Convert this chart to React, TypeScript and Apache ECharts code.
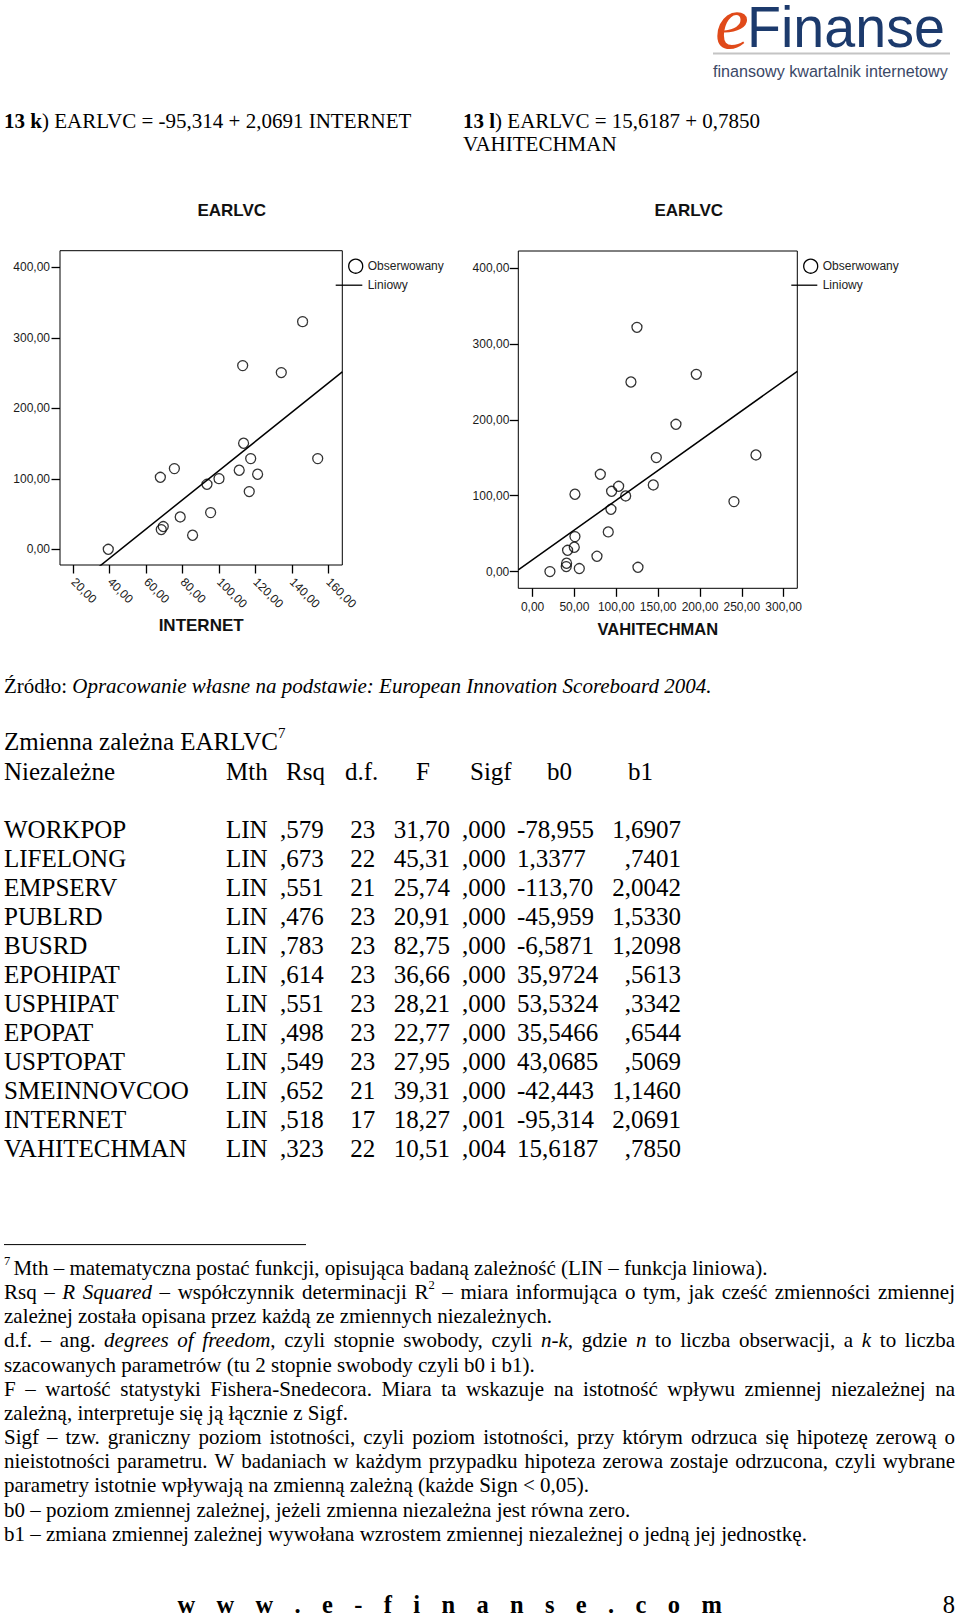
import React, { useEffect, useRef } from 'react';
import * as echarts from 'echarts';

const SERIF = '"Liberation Serif", "Times New Roman", serif';
const SANS = '"Liberation Sans", Arial, sans-serif';

// ---------- scatter 13 k) : INTERNET vs EARLVC ----------
const internetX = [39.2, 67.8, 75.5, 68.3, 69.4, 78.7, 85.5, 93.4, 95.4, 100.0, 111.1, 113.0, 113.5, 116.6, 117.4, 121.2, 134.2, 145.9, 154.2];
const internetY = [0, 102.1, 114.4, 27.9, 32.2, 45.9, 19.9, 92.2, 52.0, 100.2, 112.1, 260.5, 150.4, 81.8, 128.6, 106.4, 250.6, 322.9, 128.6];

// ---------- scatter 13 l) : VAHITECHMAN vs EARLVC ----------
const vahiX = [20.7, 40.6, 40.2, 55.8, 41.8, 49.8, 50.6, 50.6, 76.9, 80.9, 90.4, 93.6, 94.4, 102.8, 111.2, 117.5, 124.7, 125.9, 144.2, 147.8, 171.3, 195.6, 240.6, 266.9];
const vahiY = [0, 11, 6.6, 4, 28.1, 32.1, 46.1, 101.9, 20.2, 128.2, 52.3, 82.1, 105.8, 112.4, 99.7, 249.8, 321.8, 5.7, 114.2, 150.2, 194.1, 259.9, 92.2, 153.7];

// ---------- axis ticks ----------
const internetTicks = [20, 40, 60, 80, 100, 120, 140, 160];
const vahiTicks = [0, 50, 100, 150, 200, 250, 300];
const earlvcTicks = [0, 100, 200, 300, 400];

// ---------- table ----------
const variables = ['WORKPOP', 'LIFELONG', 'EMPSERV', 'PUBLRD', 'BUSRD', 'EPOHIPAT', 'USPHIPAT', 'EPOPAT', 'USPTOPAT', 'SMEINNOVCOO', 'INTERNET', 'VAHITECHMAN'];
const mth = ['LIN', 'LIN', 'LIN', 'LIN', 'LIN', 'LIN', 'LIN', 'LIN', 'LIN', 'LIN', 'LIN', 'LIN'];
const rsq = [',579', ',673', ',551', ',476', ',783', ',614', ',551', ',498', ',549', ',652', ',518', ',323'];
const dfs = ['23', '22', '21', '23', '23', '23', '23', '23', '23', '21', '17', '22'];
const fStat = ['31,70', '45,31', '25,74', '20,91', '82,75', '36,66', '28,21', '22,77', '27,95', '39,31', '18,27', '10,51'];
const sigf = [',000', ',000', ',000', ',000', ',000', ',000', ',000', ',000', ',000', ',000', ',001', ',004'];
const b0 = ['-78,955', '1,3377', '-113,70', '-45,959', '-6,5871', '35,9724', '53,5324', '35,5466', '43,0685', '-42,443', '-95,314', '15,6187'];
const b1 = ['1,6907', ',7401', '2,0042', '1,5330', '1,2098', ',5613', ',3342', ',6544', ',5069', '1,1460', '2,0691', ',7850'];
const tableHeader = ['Niezależne', 'Mth', 'Rsq', 'd.f.', 'F', 'Sigf', 'b0', 'b1'];

// ---------- texts (markup: _italic_, *bold*, ^superscript^) ----------
const heading1 = '*13 k*) EARLVC = -95,314 + 2,0691 INTERNET';
const heading2 = ['*13 l*) EARLVC = 15,6187 + 0,7850', 'VAHITECHMAN'];
const sourceLine = 'Źródło: _Opracowanie własne na podstawie: European Innovation Scoreboard 2004._';
const tableTitle = 'Zmienna zależna EARLVC^7^';
const footnotes: [string, boolean][] = [
  ['^7^ Mth – matematyczna postać funkcji, opisująca badaną zależność (LIN – funkcja liniowa).', false],
  ['Rsq – _R Squared_ – współczynnik determinacji R^2^ – miara informująca o tym, jak cześć zmienności zmiennej', true],
  ['zależnej została opisana przez każdą ze zmiennych niezależnych.', false],
  ['d.f. – ang. _degrees of freedom_, czyli stopnie swobody, czyli _n-k_, gdzie _n_ to liczba obserwacji, a _k_ to liczba', true],
  ['szacowanych parametrów (tu 2 stopnie swobody czyli b0 i b1).', false],
  ['F – wartość statystyki Fishera-Snedecora. Miara ta wskazuje na istotność wpływu zmiennej niezależnej na', true],
  ['zależną, interpretuje się ją łącznie z Sigf.', false],
  ['Sigf – tzw. graniczny poziom istotności, czyli poziom istotności, przy którym odrzuca się hipotezę zerową o', true],
  ['nieistotności parametru. W badaniach w każdym przypadku hipoteza zerowa zostaje odrzucona, czyli wybrane', true],
  ['parametry istotnie wpływają na zmienną zależną (każde Sign < 0,05).', false],
  ['b0 – poziom zmiennej zależnej, jeżeli zmienna niezależna jest równa zero.', false],
  ['b1 – zmiana zmiennej zależnej wywołana wzrostem zmiennej niezależnej o jedną jej jednostkę.', false],
];
const footerSite = 'www.e-finanse.com';
const pageNumber = '8';
const logoE = 'e';
const logoRest = 'Finanse';
const logoTagline = 'finansowy kwartalnik internetowy';

type Piece = { t: string; it: boolean; b: boolean; sup: boolean };

let mctx: CanvasRenderingContext2D | null = null;
function measure(text: string, font: string): number {
  if (!mctx) mctx = document.createElement('canvas').getContext('2d');
  mctx!.font = font;
  return mctx!.measureText(text).width;
}
function pieceFont(p: Piece, size: number) {
  const s = p.sup ? size * 0.6 : size;
  return `${p.it ? 'italic ' : ''}${p.b ? 'bold ' : ''}${s}px "Liberation Serif"`;
}
function parseWords(markup: string): Piece[][] {
  const words: Piece[][] = [];
  let cur: Piece[] = [];
  let buf = '';
  let it = false, b = false, sup = false;
  const flush = () => { if (buf) { cur.push({ t: buf, it, b, sup }); buf = ''; } };
  for (const ch of markup) {
    if (ch === '_') { flush(); it = !it; }
    else if (ch === '*') { flush(); b = !b; }
    else if (ch === '^') { flush(); sup = !sup; }
    else if (ch === ' ') { flush(); if (cur.length) words.push(cur); cur = []; }
    else buf += ch;
  }
  flush();
  if (cur.length) words.push(cur);
  return words;
}
function pieceEl(x: number, y: number, p: Piece, size: number) {
  const s = p.sup ? size * 0.6 : size;
  return {
    type: 'text', x, y: p.sup ? y - size * 0.32 : y, silent: true,
    style: {
      text: p.t, fontFamily: SERIF, fontSize: s,
      fontStyle: p.it ? 'italic' : 'normal', fontWeight: p.b ? 'bold' : 'normal',
      fill: '#000', textAlign: 'left', textVerticalAlign: 'middle',
    },
  };
}
function layoutLine(out: any[], markup: string, x0: number, y: number, size: number, justifyTo?: number) {
  const words = parseWords(markup);
  if (!justifyTo) {
    const runs: Piece[] = [];
    words.forEach((ws, wi) => {
      ws.forEach((p, pi) => {
        const lead = wi > 0 && pi === 0;
        const last = runs[runs.length - 1];
        if (last && last.it === p.it && last.b === p.b && last.sup === p.sup) {
          last.t += (lead ? ' ' : '') + p.t;
        } else {
          if (lead && last) last.t += ' ';
          runs.push({ ...p });
        }
      });
    });
    let x = x0;
    runs.forEach((r) => { out.push(pieceEl(x, y, r, size)); x += measure(r.t, pieceFont(r, size)); });
    return;
  }
  const widths = words.map((ws) => ws.reduce((a, p) => a + measure(p.t, pieceFont(p, size)), 0));
  const total = widths.reduce((a, v) => a + v, 0);
  const gap = (justifyTo - x0 - total) / (words.length - 1);
  let x = x0;
  words.forEach((ws, i) => {
    let px = x;
    ws.forEach((p) => { out.push(pieceEl(px, y, p, size)); px += measure(p.t, pieceFont(p, size)); });
    x += widths[i] + gap;
  });
}
function plainText(x: number, y: number, text: string, size: number, extra: any = {}) {
  return {
    type: 'text', x, y, silent: true,
    style: {
      text, fontFamily: extra.family ?? SERIF, fontSize: size,
      fontWeight: extra.bold ? 'bold' : 'normal', fontStyle: extra.italic ? 'italic' : 'normal',
      fill: extra.color ?? '#000', textAlign: extra.align ?? 'left', textVerticalAlign: 'middle',
    },
    ...(extra.scaleX ? { scaleX: extra.scaleX } : {}),
  };
}

const num = (s: string) => parseFloat(s.replace(',', '.'));
const fmt = (v: number) => v.toFixed(2).replace('.', ',');

function buildOption() {
  const g: any[] = [];

  // ---- logo ----
  g.push({ type: 'text', x: 715, y: 22, silent: true, style: { text: logoE, fontFamily: SERIF, fontStyle: 'italic', fontSize: 76, fill: '#e04a1a', textAlign: 'left', textVerticalAlign: 'middle' } });
  const fw = measure(logoRest, `57px "Liberation Sans"`);
  g.push(plainText(747, 27.5, logoRest, 57, { family: SANS, color: '#1c3a6c', scaleX: 198 / fw }));
  g.push({ type: 'line', silent: true, shape: { x1: 713, y1: 53.5, x2: 950, y2: 53.5 }, style: { stroke: '#c4c4c4', lineWidth: 2 } });
  const tw = measure(logoTagline, `17px "Liberation Sans"`);
  g.push(plainText(713, 71, logoTagline, 17, { family: SANS, color: '#3b4866', scaleX: 235 / tw }));

  // ---- headings ----
  layoutLine(g, heading1, 4, 120.6, 21);
  layoutLine(g, heading2[0], 463, 120.6, 21);
  layoutLine(g, heading2[1], 463, 144.4, 21);

  // ---- chart titles and legends ----
  const chartTitles = [231.7, 688.7];
  chartTitles.forEach((cx) => g.push(plainText(cx, 210, 'EARLVC', 17, { family: SANS, bold: true, align: 'center', color: '#111' })));
  const legends = [
    { cx: 355.7, lx1: 335.7, lx2: 362.3, tx: 367.7 },
    { cx: 810.7, lx1: 791.3, lx2: 817.3, tx: 822.7 },
  ];
  legends.forEach((L) => {
    g.push({ type: 'circle', silent: true, shape: { cx: L.cx, cy: 266.2, r: 7 }, style: { fill: 'none', stroke: '#000', lineWidth: 1.3 } });
    g.push(plainText(L.tx, 266.2, 'Obserwowany', 12, { family: SANS, color: '#222' }));
    g.push({ type: 'line', silent: true, shape: { x1: L.lx1, y1: 285.2, x2: L.lx2, y2: 285.2 }, style: { stroke: '#000', lineWidth: 1.3 } });
    g.push(plainText(L.tx, 285.2, 'Liniowy', 12, { family: SANS, color: '#222' }));
  });

  // ---- source + table ----
  layoutLine(g, sourceLine, 4, 685.7, 21);
  layoutLine(g, tableTitle, 4, 741.4, 25);
  const headX = [4, 226, 286, 345, 416, 470, 547, 628];
  tableHeader.forEach((h, i) => g.push(plainText(headX[i], 771.3, h, 25)));
  variables.forEach((v, i) => {
    const y = 829 + i * 29;
    g.push(plainText(4, y, v, 25));
    g.push(plainText(226, y, mth[i], 25));
    g.push(plainText(280, y, rsq[i], 25));
    g.push(plainText(350.2, y, dfs[i], 25));
    g.push(plainText(393.8, y, fStat[i], 25));
    g.push(plainText(462, y, sigf[i], 25));
    g.push(plainText(517, y, b0[i], 25));
    g.push(plainText(681, y, b1[i], 25, { align: 'right' }));
  });

  // ---- footnotes ----
  g.push({ type: 'line', silent: true, shape: { x1: 4, y1: 1244.6, x2: 306, y2: 1244.6 }, style: { stroke: '#000', lineWidth: 1 } });
  footnotes.forEach(([t, just], i) => {
    layoutLine(g, t, 4, 1268 + i * 24.15, 21, just ? 955 : undefined);
  });

  // ---- footer ----
  const ff = `bold 24.5px "Liberation Serif"`;
  const chars = Array.from(footerSite);
  const cw = chars.map((c) => measure(c, ff));
  const sumW = cw.reduce((a, v) => a + v, 0);
  const fgap = (721.8 - 177.4 - sumW) / (chars.length - 1);
  let fx = 177.4;
  chars.forEach((c, i) => { g.push(plainText(fx, 1604.3, c, 24.5, { bold: true })); fx += cw[i] + fgap; });
  g.push(plainText(955, 1604.3, pageNumber, 24.5, { align: 'right' }));

  // ---- regression lines from the table coefficients ----
  const ri = variables.indexOf('INTERNET');
  const vi = variables.indexOf('VAHITECHMAN');
  const x1Min = 12.7, x1Max = 167.7, y1Min = -22.3, y1Max = 423.5;
  const x2Min = -17.1, x2Max = 316.3, y2Min = -22, y2Max = 422.4;
  const lineK = [x1Min, x1Max].map((x) => [x, num(b0[ri]) + num(b1[ri]) * x]);
  const lineL = [x2Min, x2Max].map((x) => [x, num(b0[vi]) + num(b1[vi]) * x]);

  const tickStyle = { show: true, inside: false, length: 8.5, lineStyle: { color: '#000', width: 1.3 } };
  const labelBase = { color: '#1a1a1a', fontFamily: SANS, fontSize: 12, formatter: fmt };
  const nameStyle = { fontFamily: SANS, fontWeight: 'bold', fontSize: 17, color: '#111' };
  const hiddenLine = { show: false, onZero: false };

  const scatterStyle = { color: 'rgba(0,0,0,0)', borderColor: '#000', borderWidth: 1.3 };

  return {
    animation: false,
    backgroundColor: '#fff',
    grid: [
      { left: 60, top: 250.7, width: 282.3, height: 314.3, show: true, borderColor: '#000', borderWidth: 1, backgroundColor: 'transparent' },
      { left: 518.3, top: 251, width: 279, height: 337.3, show: true, borderColor: '#000', borderWidth: 1, backgroundColor: 'transparent' },
    ],
    xAxis: [
      {
        type: 'value', gridIndex: 0, min: x1Min, max: x1Max,
        axisLine: hiddenLine, splitLine: { show: false },
        axisTick: { ...tickStyle, customValues: internetTicks },
        axisLabel: { ...labelBase, customValues: internetTicks, rotate: -45, margin: 15 },
        name: 'INTERNET', nameLocation: 'middle', nameGap: 52, nameTextStyle: nameStyle,
      },
      {
        type: 'value', gridIndex: 1, min: x2Min, max: x2Max,
        axisLine: hiddenLine, splitLine: { show: false },
        axisTick: { ...tickStyle, customValues: vahiTicks },
        axisLabel: { ...labelBase, customValues: vahiTicks, margin: 13 },
        name: 'VAHITECHMAN', nameLocation: 'middle', nameGap: 32, nameTextStyle: { ...nameStyle, fontSize: 16.5 },
      },
    ],
    yAxis: [
      {
        type: 'value', gridIndex: 0, min: y1Min, max: y1Max,
        axisLine: hiddenLine, splitLine: { show: false },
        axisTick: { ...tickStyle, customValues: earlvcTicks },
        axisLabel: { ...labelBase, customValues: earlvcTicks, margin: 10 },
      },
      {
        type: 'value', gridIndex: 1, min: y2Min, max: y2Max,
        axisLine: hiddenLine, splitLine: { show: false },
        axisTick: { ...tickStyle, customValues: earlvcTicks },
        axisLabel: { ...labelBase, customValues: earlvcTicks, margin: 9 },
      },
    ],
    series: [
      { type: 'line', xAxisIndex: 0, yAxisIndex: 0, data: lineK, symbol: 'none', clip: true, silent: true, lineStyle: { color: '#000', width: 1.5 } },
      { type: 'scatter', xAxisIndex: 0, yAxisIndex: 0, data: internetX.map((x, i) => [x, internetY[i]]), symbol: 'circle', symbolSize: 10, silent: true, itemStyle: scatterStyle },
      { type: 'line', xAxisIndex: 1, yAxisIndex: 1, data: lineL, symbol: 'none', clip: true, silent: true, lineStyle: { color: '#000', width: 1.5 } },
      { type: 'scatter', xAxisIndex: 1, yAxisIndex: 1, data: vahiX.map((x, i) => [x, vahiY[i]]), symbol: 'circle', symbolSize: 10, silent: true, itemStyle: scatterStyle },
    ],
    graphic: { elements: g },
  };
}

export default function App() {
  const ref = useRef<HTMLDivElement>(null);
  useEffect(() => {
    if (!ref.current) return;
    const chart = echarts.init(ref.current, null, { renderer: 'svg' });
    chart.setOption(buildOption() as any);
    return () => chart.dispose();
  }, []);
  return (
    <div
      ref={ref}
      style={{ position: 'absolute', left: 0, top: 0, width: 960, height: 1617, background: '#fff' }}
    />
  );
}
